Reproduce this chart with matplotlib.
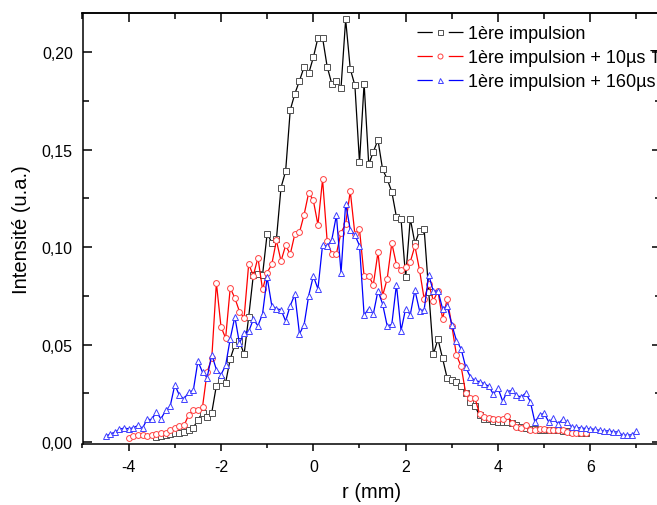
import matplotlib
matplotlib.use("Agg")
import matplotlib.pyplot as plt
from matplotlib.lines import Line2D
from matplotlib.ticker import MultipleLocator, FuncFormatter

plt.rcParams['font.family'] = ['Liberation Sans', 'DejaVu Sans']
plt.rcParams['axes.unicode_minus'] = False
plt.rcParams['lines.scale_dashes'] = False

# shared sampling positions r (mm)
r_grid = [-4.5, -4.4, -4.3, -4.2, -4.1, -4.0, -3.9, -3.8, -3.7, -3.6,
          -3.5, -3.4, -3.3, -3.2, -3.1, -3.0, -2.9, -2.8, -2.7, -2.6,
          -2.5, -2.4, -2.3, -2.2, -2.1, -2.0, -1.9, -1.8, -1.7, -1.6,
          -1.5, -1.4, -1.3, -1.2, -1.1, -1.0, -0.9, -0.8, -0.7, -0.6,
          -0.5, -0.4, -0.3, -0.2, -0.1, 0.0, 0.1, 0.2, 0.3, 0.4,
          0.5, 0.6, 0.7, 0.8, 0.9, 1.0, 1.1, 1.2, 1.3, 1.4,
          1.5, 1.6, 1.7, 1.8, 1.9, 2.0, 2.1, 2.2, 2.3, 2.4,
          2.5, 2.6, 2.7, 2.8, 2.9, 3.0, 3.1, 3.2, 3.3, 3.4,
          3.5, 3.6, 3.7, 3.8, 3.9, 4.0, 4.1, 4.2, 4.3, 4.4,
          4.5, 4.6, 4.7, 4.8, 4.9, 5.0, 5.1, 5.2, 5.3, 5.4,
          5.5, 5.6, 5.7, 5.8, 5.9, 6.0, 6.1, 6.2, 6.3, 6.4,
          6.5, 6.6, 6.7, 6.8, 6.9, 7.0]

# 1ère impulsion : r from -3.4 to 5.9
x_p1 = r_grid[11:105]
y_p1 = [0.0025, 0.0030, 0.0035, 0.0040, 0.0048, 0.0046, 0.0054, 0.0063, 0.0073, 0.0115,
        0.0150, 0.0127, 0.0151, 0.0290, 0.0320, 0.0305, 0.0426, 0.0500, 0.0520, 0.0450,
        0.0643, 0.0856, 0.0860, 0.0858, 0.1070, 0.1024, 0.1040, 0.1306, 0.1390, 0.1704,
        0.1788, 0.1854, 0.1925, 0.1892, 0.1974, 0.2075, 0.2075, 0.1926, 0.1839, 0.1853,
        0.1818, 0.2169, 0.1915, 0.1831, 0.1436, 0.1840, 0.1425, 0.1490, 0.1550, 0.1400,
        0.1349, 0.1284, 0.1155, 0.1144, 0.0845, 0.1147, 0.1020, 0.1082, 0.1094, 0.0770,
        0.0451, 0.0528, 0.0429, 0.0327, 0.0318, 0.0308, 0.0287, 0.0253, 0.0205, 0.0185,
        0.0137, 0.0118, 0.0116, 0.0110, 0.0105, 0.0103, 0.0103, 0.0099, 0.0085, 0.0076,
        0.0070, 0.0068, 0.0065, 0.0062, 0.0060, 0.0062, 0.0060, 0.0060, 0.0057, 0.0055,
        0.0052, 0.0050, 0.0048, 0.0044]

# 1ère impulsion + 10µs : r from -4.0 to 5.9
x_p10 = r_grid[5:105]
y_p10 = [0.0020, 0.0030, 0.0034, 0.0034, 0.0032, 0.0034, 0.0043, 0.0045, 0.0045, 0.0060,
         0.0072, 0.0082, 0.0085, 0.0140, 0.0164, 0.0164, 0.0181, 0.0360, 0.0430, 0.0817,
         0.0592, 0.0533, 0.0791, 0.0739, 0.0670, 0.0637, 0.0914, 0.0854, 0.0946, 0.0783,
         0.0870, 0.0912, 0.1035, 0.0929, 0.1009, 0.0964, 0.1068, 0.1076, 0.1167, 0.1280,
         0.1240, 0.1115, 0.1348, 0.1030, 0.0967, 0.0967, 0.1075, 0.1120, 0.1288, 0.1067,
         0.1092, 0.0851, 0.0851, 0.0808, 0.0974, 0.0750, 0.0838, 0.1021, 0.0911, 0.0882,
         0.0900, 0.0925, 0.1006, 0.0883, 0.0735, 0.0810, 0.0726, 0.0774, 0.0633, 0.0733,
         0.0598, 0.0446, 0.0390, 0.0252, 0.0224, 0.0226, 0.0145, 0.0130, 0.0123, 0.0120,
         0.0120, 0.0120, 0.0132, 0.0097, 0.0079, 0.0073, 0.0090, 0.0063, 0.0060, 0.0068,
         0.0068, 0.0062, 0.0064, 0.0064, 0.0060, 0.0050, 0.0048, 0.0047, 0.0045, 0.0044]

# 1ère impulsion + 160µs : r from -4.5 to 7.0
x_p160 = r_grid[0:116]
y_p160 = [0.0030, 0.0041, 0.0051, 0.0065, 0.0072, 0.0068, 0.0073, 0.0085, 0.0072, 0.0116,
          0.0116, 0.0154, 0.0119, 0.0162, 0.0185, 0.0294, 0.0239, 0.0222, 0.0256, 0.0265,
          0.0415, 0.0358, 0.0331, 0.0448, 0.0372, 0.0346, 0.0393, 0.0530, 0.0643, 0.0506,
          0.0562, 0.0568, 0.0629, 0.0597, 0.0658, 0.0845, 0.0700, 0.0684, 0.0679, 0.0621,
          0.0700, 0.0758, 0.0555, 0.0602, 0.0752, 0.0852, 0.0786, 0.1012, 0.1004, 0.1038,
          0.1164, 0.0868, 0.1224, 0.1090, 0.1063, 0.1008, 0.0651, 0.0685, 0.0658, 0.0776,
          0.0709, 0.0596, 0.0604, 0.0808, 0.0572, 0.0685, 0.0654, 0.0780, 0.0675, 0.0678,
          0.0858, 0.0773, 0.0776, 0.0684, 0.0699, 0.0602, 0.0521, 0.0479, 0.0385, 0.0335,
          0.0316, 0.0310, 0.0300, 0.0286, 0.0246, 0.0277, 0.0210, 0.0259, 0.0265, 0.0239,
          0.0231, 0.0251, 0.0208, 0.0101, 0.0140, 0.0147, 0.0103, 0.0122, 0.0094, 0.0116,
          0.0101, 0.0077, 0.0075, 0.0072, 0.0070, 0.0068, 0.0065, 0.0060, 0.0056, 0.0058,
          0.0052, 0.0052, 0.0035, 0.0036, 0.0037, 0.0056]

labels = ["1ère impulsion", "1ère impulsion + 10µs Tir", "1ère impulsion + 160µs Tir"]
x_ticks = [-4, -2, 0, 2, 4, 6]
y_ticks = [0.00, 0.05, 0.10, 0.15, 0.20]

W, H = 657, 506
fig = plt.figure(figsize=(W / 100, H / 100), dpi=100)
left, right, top, bottom = 82.5, 660.5, 14, 445
ax = fig.add_axes([left / W, 1 - bottom / H, (right - left) / W, (bottom - top) / H])

styles = [
    dict(color='black', marker='s', mec='#505050'),
    dict(color='#ff0000', marker='o', mec='#ff4040'),
    dict(color='#0000ff', marker='^', mec='#4040ff'),
]
series = [(x_p1, y_p1), (x_p10, y_p10), (x_p160, y_p160)]
for (xs, ys), st in zip(series, styles):
    ax.plot(xs, ys, color=st['color'], lw=0.9, marker=st['marker'], ms=4.2,
            mfc='white', mec=st['mec'], mew=0.7)

ax.set_xlim(-5.0, 7.52)
ax.set_ylim(-0.001, 0.2202)
ax.set_xticks(x_ticks)
ax.xaxis.set_minor_locator(MultipleLocator(1))
ax.set_yticks(y_ticks)
ax.yaxis.set_minor_locator(MultipleLocator(0.025))
ax.yaxis.set_major_formatter(FuncFormatter(lambda v, p: f"{v:.2f}".replace('.', ',')))
ax.xaxis.set_major_formatter(FuncFormatter(lambda v, p: f"{v:g}"))

for s in ax.spines.values():
    s.set_linewidth(1.1)

ax.tick_params(axis='x', which='major', direction='out', length=5, width=1.1,
               labelsize=11.5, pad=5.5, top=False)
ax.tick_params(axis='x', which='minor', direction='out', length=3, width=1.1, top=False)
ax.tick_params(axis='y', which='major', direction='in', length=6.5, width=1.1,
               labelsize=11.5, pad=7, right=True)
ax.tick_params(axis='y', which='minor', direction='in', length=4.5, width=1.1, right=True)

# inward top ticks
sec = ax.secondary_xaxis('top')
sec.set_xticks(x_ticks)
sec.xaxis.set_minor_locator(MultipleLocator(1))
sec.tick_params(which='major', direction='in', length=6.5, width=1.1, labeltop=False)
sec.tick_params(which='minor', direction='in', length=4.5, width=1.1)
sec.spines['top'].set_linewidth(1.1)

ax.set_xlabel("r (mm)", fontsize=14.5)
ax.set_ylabel("Intensité (u.a.)", fontsize=14.5)
ax.xaxis.set_label_coords((372 - left) / (right - left), (bottom - 493) / (bottom - top))
ax.xaxis.label.set_verticalalignment('center')
ax.yaxis.set_label_coords((22 - left) / (right - left), 0.5)
ax.yaxis.label.set_verticalalignment('center')

handles = []
for st in styles:
    handles.append(Line2D([], [], color=st['color'], lw=0.9,
                          linestyle=(0, (11, 11.5, 11, 60)),
                          marker=st['marker'], ms=3.6, mfc='white', mec=st['mec'], mew=0.7))
leg = fig.legend(handles, labels, loc='upper left',
                 bbox_to_anchor=(417 / W, 1 - 26 / H), frameon=False,
                 fontsize=13, handlelength=2.55, handletextpad=0.3,
                 labelspacing=0.40, borderpad=0, borderaxespad=0, numpoints=1)

fig.savefig("out.png", dpi=100)
